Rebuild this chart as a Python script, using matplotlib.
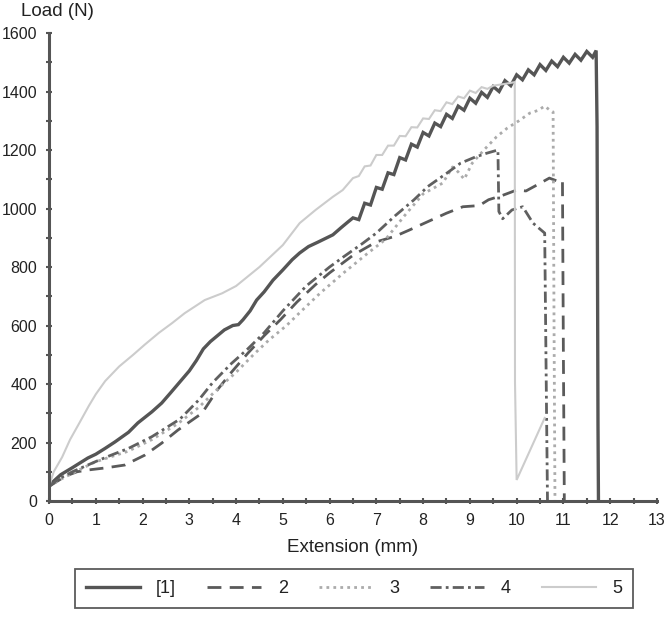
import numpy as np
import matplotlib.pyplot as plt
from matplotlib.ticker import MultipleLocator

plt.rcParams['font.family'] = ['Liberation Sans', 'DejaVu Sans']

# ── data ──────────────────────────────────────────────────────────────
labels = ['[1]', '2', '3', '4', '5']

c1_x = [0, 0.1, 0.25, 0.49, 0.83, 1.0, 1.2, 1.41, 1.7, 1.9, 2.2, 2.41, 2.6, 2.76,
        3.0, 3.15, 3.3, 3.45, 3.6, 3.75, 3.93, 4.05, 4.15, 4.3, 4.44, 4.6, 4.79,
        5.0, 5.2, 5.36, 5.55, 5.75, 6.07, 6.25, 6.4,
        6.5, 6.625, 6.75, 6.875, 7.0, 7.125, 7.25, 7.375, 7.5, 7.625, 7.75, 7.875,
        8.0, 8.125, 8.25, 8.375, 8.5, 8.625, 8.75, 8.875, 9.0, 9.125, 9.25, 9.375,
        9.5, 9.625, 9.75, 9.875, 10.0, 10.125, 10.25, 10.375, 10.5, 10.625, 10.75,
        10.875, 11.0, 11.125, 11.25, 11.375, 11.5, 11.625, 11.7, 11.72, 11.74, 11.75]
c1_y = [50, 68, 90, 113, 147, 160, 180, 202, 235, 267, 305, 335, 370, 400,
        445, 480, 520, 545, 565, 585, 600, 603, 620, 650, 687, 715, 755,
        790, 825, 848, 870, 885, 910, 935, 955,
        968, 962, 1018, 1012, 1072, 1066, 1122, 1116, 1174, 1166, 1220, 1210,
        1260, 1248, 1292, 1280, 1322, 1308, 1350, 1336, 1377, 1360, 1397, 1380,
        1417, 1400, 1437, 1420, 1457, 1440, 1474, 1457, 1492, 1472, 1504, 1485,
        1517, 1497, 1527, 1507, 1537, 1517, 1540, 1280, 260, 0]

c2_x = [0, 0.15, 0.35, 0.6, 0.83, 1.2, 1.62, 2.05, 2.41, 2.76, 3.27, 3.6, 3.9,
        4.25, 4.6, 4.95, 5.3, 5.7, 6.0, 6.5, 7.0, 7.4, 7.7, 8.1, 8.5, 8.85, 9.2,
        9.4, 9.7, 10.0, 10.2, 10.43, 10.7, 10.85, 10.98, 11.0, 11.02]
c2_y = [50, 65, 85, 100, 106, 113, 123, 157, 198, 243, 300, 380, 440,
        505, 565, 620, 680, 740, 780, 840, 886, 905, 926, 955, 984, 1006, 1010,
        1030, 1045, 1063, 1060, 1080, 1104, 1095, 1097, 500, 0]

c3_x = [0, 0.2, 0.5, 0.98, 1.3, 1.69, 2.2, 2.76, 3.2, 3.65, 4.0, 4.37, 4.7, 5.08,
        5.4, 5.8, 6.3, 6.8, 7.2, 7.6, 8.0, 8.42, 8.63, 8.75, 8.88, 9.05, 9.3, 9.57,
        9.8, 10.05, 10.28, 10.45, 10.6, 10.72, 10.78, 10.8, 10.82]
c3_y = [50, 70, 95, 133, 150, 170, 210, 265, 320, 390, 440, 500, 550, 600,
        650, 711, 780, 845, 895, 975, 1050, 1087, 1142, 1125, 1100, 1155, 1200, 1245,
        1275, 1300, 1326, 1335, 1350, 1335, 1330, 600, 0]

c4_x = [0, 0.2, 0.5, 1.0, 1.3, 1.7, 2.2, 2.8, 3.2, 3.5, 3.9, 4.25, 4.6, 5.0, 5.5,
        6.0, 6.3, 6.7, 7.0, 7.4, 7.8, 8.1, 8.5, 8.8, 9.1, 9.36, 9.6, 9.62, 9.7, 9.9,
        10.13, 10.35, 10.6, 10.64, 10.66]
c4_y = [50, 75, 100, 135, 155, 180, 220, 280, 345, 405, 470, 520, 575, 650, 735,
        800, 835, 880, 916, 975, 1029, 1075, 1120, 1155, 1175, 1189, 1200, 990, 965, 995,
        1006, 950, 916, 300, 0]

c5_x = [0, 0.1, 0.28, 0.45, 0.66, 0.85, 1.0, 1.2, 1.5, 1.8, 2.05, 2.35, 2.63, 2.9,
        3.33, 3.7, 4.0, 4.5, 5.0, 5.36, 5.7, 6.07, 6.28,
        6.5, 6.625, 6.75, 6.875, 7.0, 7.125, 7.25, 7.375, 7.5, 7.625, 7.75, 7.875,
        8.0, 8.125, 8.25, 8.375, 8.5, 8.625, 8.75, 8.875, 9.0, 9.125, 9.25, 9.375,
        9.5, 9.75, 9.96, 9.965, 10.0, 10.6]
c5_y = [50, 100, 150, 210, 270, 325, 365, 410, 460, 500, 535, 575, 608, 642,
        687, 710, 735, 800, 875, 950, 995, 1040, 1063,
        1104, 1111, 1144, 1147, 1183, 1183, 1215, 1215, 1248, 1247, 1278, 1277,
        1308, 1306, 1336, 1333, 1363, 1357, 1383, 1377, 1403, 1395, 1415, 1409,
        1420, 1426, 1432, 407, 72, 284]

xs = [c1_x, c2_x, c3_x, c4_x, c5_x]
ys = [c1_y, c2_y, c3_y, c4_y, c5_y]

colors = ['#555555', '#5a5a5a', '#ababab', '#606060', '#cccccc']
widths = [2.4, 2.0, 2.0, 2.0, 1.5]
dashes = [None, (5, 3), (1, 1.5), (4, 1.5, 1, 1.5), None]

# ── figure ────────────────────────────────────────────────────────────
fig = plt.figure(figsize=(6.68, 6.18), dpi=100, facecolor='white')
ax = fig.add_axes([0.0734, 0.1893, 0.910, 0.7573])

handles = []
for x, y, c, w, d, lab in zip(xs, ys, colors, widths, dashes, labels):
    ln, = ax.plot(x, y, color=c, lw=w, label=lab, solid_joinstyle='miter')
    if d is not None:
        ln.set_dashes(d)
    handles.append(ln)

ax.set_xlim(0, 13)
ax.set_ylim(0, 1600)
ax.xaxis.set_major_locator(MultipleLocator(1))
ax.xaxis.set_minor_locator(MultipleLocator(0.5))
ax.yaxis.set_major_locator(MultipleLocator(200))
ax.yaxis.set_minor_locator(MultipleLocator(100))

for s in ['top', 'right']:
    ax.spines[s].set_visible(False)
for s in ['left', 'bottom']:
    ax.spines[s].set_color('#555555')
    ax.spines[s].set_linewidth(2.2)

ax.tick_params(which='both', direction='inout', color='#555555', width=1.5,
               length=5, labelsize=11.5, labelcolor='#222222', pad=6)

ax.set_xlabel('Extension (mm)', fontsize=13.5, color='#222222', labelpad=8)
fig.text(21 / 668, 1 - 11 / 618, 'Load (N)', fontsize=13.5, color='#222222',
         ha='left', va='center')

leg = fig.legend(handles, labels, loc='center',
                 bbox_to_anchor=(75 / 668, 1 - 610 / 618, 558 / 668, 43 / 618),
                 mode='expand', ncol=5, frameon=True, fancybox=False,
                 edgecolor='#333333', fontsize=13, handlelength=3.0,
                 handletextpad=0.9, borderpad=0.6, columnspacing=1.0,
                 borderaxespad=0)
leg.get_frame().set_linewidth(1.3)
for t in leg.get_texts():
    t.set_color('#222222')

fig.savefig('out.png', dpi=100, facecolor='white')
